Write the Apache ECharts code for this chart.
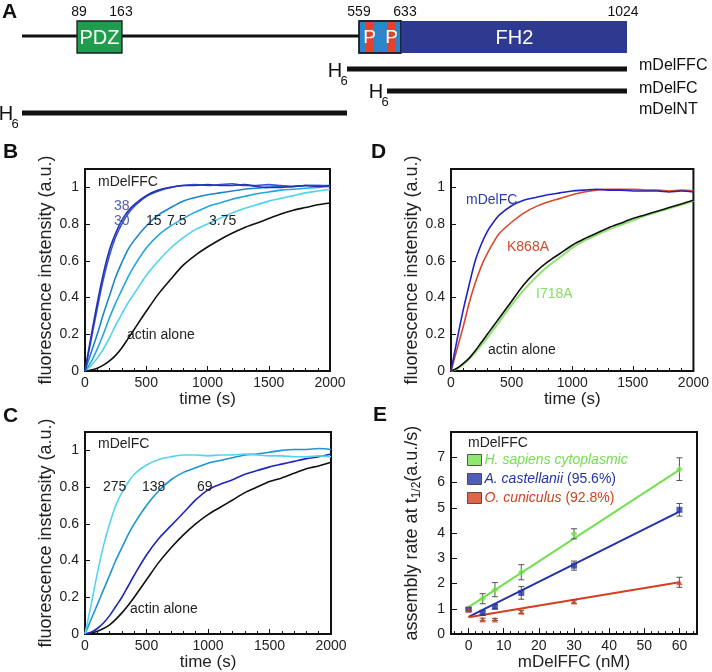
<!DOCTYPE html>
<html><head><meta charset="utf-8">
<script src="https://cdn.jsdelivr.net/npm/echarts@6.0.0/dist/echarts.min.js"></script>
<style>html,body{margin:0;padding:0;background:#fff}#c{width:712px;height:672px}</style>
</head><body><div id="c"></div>
<script>
// ---------- Panel A (schematic units) ----------
const aBackbone = [[22, 36], [359, 36]];
const aDomainNames = ['PDZ', '', 'FH2'];
const aDomainStart = [77, 359, 402];
const aDomainEnd = [122, 401, 627];
const aDomainFill = ['#1f9d4c', '#2a86c8', '#2e3a90'];
const aStripeStart = [366, 388];
const aStripeEnd = [373, 395];
const aConstructNames = ['mDelFFC', 'mDelFC', 'mDelNT'];
const aConstructStart = [347, 387, 22];
const aConstructEnd = [627, 627, 347];
const aConstructRow = [69, 91, 113];
const aResidueLabels = ['89', '163', '559', '633', '1024'];
const aResiduePos = [79, 121, 359, 405, 623];

// ---------- Panels B-D: time courses ----------
const T = [0,50,100,150,200,250,300,350,400,500,600,700,800,900,1000,1100,1200,1300,1400,1500,1600,1700,1800,1900,2000];
const b38   = [0,0.19,0.37,0.53,0.66,0.75,0.82,0.87,0.905,0.955,0.985,1.0,1.01,1.01,1.015,1.01,1.01,1.015,1.005,1.0,1.0,1.005,1.01,1.005,1.01];
const b30   = [0,0.17,0.34,0.5,0.63,0.73,0.8,0.855,0.895,0.95,0.98,1.0,1.01,1.015,1.01,1.015,1.02,1.01,1.01,1.015,1.01,1.005,1.01,1.01,1.005];
const b15   = [0,0.1,0.2,0.31,0.41,0.51,0.59,0.66,0.71,0.79,0.85,0.89,0.925,0.945,0.96,0.97,0.98,0.99,0.995,1.0,1.005,1.005,1.01,1.01,1.01];
const b7_5  = [0,0.05,0.12,0.2,0.29,0.37,0.44,0.51,0.57,0.67,0.74,0.79,0.83,0.865,0.895,0.915,0.935,0.95,0.965,0.975,0.985,0.99,0.995,1.0,1.005];
const b3_75 = [0,0.03,0.07,0.12,0.18,0.25,0.31,0.37,0.42,0.52,0.6,0.67,0.725,0.77,0.8,0.83,0.86,0.885,0.905,0.925,0.94,0.955,0.97,0.98,0.99];
const bActin= [0,0.005,0.015,0.032,0.055,0.085,0.125,0.175,0.225,0.325,0.42,0.5,0.575,0.63,0.675,0.715,0.75,0.78,0.805,0.83,0.855,0.875,0.89,0.905,0.915];

const c275  = [0,0.16,0.33,0.48,0.6,0.7,0.77,0.825,0.87,0.92,0.95,0.965,0.975,0.975,0.97,0.975,0.975,0.98,0.975,0.97,0.97,0.965,0.965,0.97,0.965];
const c138  = [0,0.08,0.16,0.24,0.32,0.4,0.47,0.54,0.6,0.7,0.78,0.84,0.88,0.905,0.93,0.945,0.96,0.975,0.98,0.99,1.0,1.005,1.005,1.01,1.005];
const c69   = [0,0.01,0.03,0.06,0.1,0.15,0.2,0.26,0.32,0.43,0.52,0.59,0.66,0.73,0.785,0.815,0.84,0.87,0.89,0.91,0.925,0.94,0.955,0.965,0.98];
const cActin= [0,0.005,0.015,0.03,0.05,0.08,0.115,0.155,0.2,0.295,0.39,0.47,0.54,0.6,0.65,0.69,0.73,0.77,0.8,0.83,0.85,0.875,0.9,0.915,0.935];

const dFC    = [0,0.17,0.33,0.47,0.6,0.69,0.76,0.81,0.85,0.9,0.93,0.945,0.96,0.97,0.98,0.985,0.99,0.985,0.985,0.98,0.98,0.98,0.975,0.98,0.975];
const dK868A = [0,0.12,0.24,0.37,0.48,0.57,0.64,0.7,0.75,0.81,0.86,0.895,0.92,0.94,0.96,0.975,0.985,0.99,0.99,0.99,0.985,0.985,0.98,0.985,0.98];
const dActin = [0,0.015,0.04,0.07,0.11,0.155,0.2,0.245,0.29,0.38,0.47,0.54,0.595,0.64,0.685,0.72,0.75,0.78,0.805,0.83,0.85,0.87,0.89,0.91,0.93];
const dI718A = [0,0.012,0.035,0.065,0.1,0.14,0.18,0.225,0.27,0.36,0.44,0.51,0.57,0.62,0.67,0.71,0.74,0.77,0.795,0.82,0.845,0.865,0.885,0.905,0.925];

const fluorTicks = [0,0.2,0.4,0.6,0.8,1];

// ---------- Panel E ----------
const eX = [0, 4, 7.5, 15, 30, 60];
const eHuman = [1.0, 1.40, 1.76, 2.45, 3.97, 6.53];
const eHumanErr = [0.05, 0.2, 0.28, 0.3, 0.2, 0.45];
const eAcanth = [0.97, 0.84, 1.08, 1.63, 2.71, 4.92];
const eAcanthErr = [0.05, 0.1, 0.08, 0.25, 0.18, 0.25];
const eRabbit = [0.97, 0.58, 0.58, 0.88, 1.29, 2.05];
const eRabbitErr = [0.05, 0.05, 0.04, 0.06, 0.06, 0.2];
const fitX = [0, 60];
const fitHuman = [1.07, 6.5];
const fitAcanth = [0.68, 4.85];
const fitRabbit = [0.67, 2.05];
const eYTicks = [0,1,2,3,4,5,6,7];
const eXTicks = [0,10,20,30,40,50,60];
const eXMinor = [-4,-2,2,4,6,8,12,14,16,18,22,24,26,28,32,34,36,38,42,44,46,48,52,54,56,58,62,64];

// ---------- build ----------
const FONT = "'Liberation Sans', Arial, Helvetica, sans-serif";
const chart = echarts.init(document.getElementById('c'), null, {renderer: 'canvas'});
const pairs = (xs, ys) => xs.map((x, i) => [x, ys[i]]);
const plain = (v) => String(v);

function curve(name, arr, color, idx, w) {
  return {type: 'line', name, xAxisIndex: idx, yAxisIndex: idx, data: pairs(T, arr),
    showSymbol: false, smooth: 0.3, lineStyle: {color, width: w || 1.6}, itemStyle: {color}, z: 3};
}
function fluorAxes(idx) {
  return {
    x: {type: 'value', gridIndex: idx, min: 0, max: 2000, interval: 500,
      axisLine: {show: false, onZero: false}, splitLine: {show: false},
      axisTick: {inside: true, length: 5, lineStyle: {color: '#111'}},
      minorTick: {show: true, splitNumber: 5, length: 3, lineStyle: {color: '#111'}},
      axisLabel: {fontSize: 14, color: '#222', margin: 5, fontFamily: FONT, formatter: plain},
      name: 'time (s)', nameLocation: 'middle', nameGap: 14,
      nameTextStyle: {fontSize: 17, color: '#222', fontFamily: FONT, verticalAlign: 'top'}},
    y: {type: 'value', gridIndex: idx, min: 0, max: 1.1,
      axisLine: {show: false, onZero: false}, splitLine: {show: false},
      axisTick: {inside: true, length: 5, customValues: fluorTicks, lineStyle: {color: '#111'}},
      axisLabel: {fontSize: 14, color: '#222', margin: 6, customValues: fluorTicks, fontFamily: FONT, formatter: plain},
      name: 'fluorescence instensity (a.u.)', nameLocation: 'middle', nameGap: 30,
      nameTextStyle: {fontSize: 18, color: '#222', fontFamily: FONT}}
  };
}
const axB = fluorAxes(1), axC = fluorAxes(2), axD = fluorAxes(3);

function errSeries(name, ys, errs, color) {
  return {type: 'custom', name: name + ' err', xAxisIndex: 4, yAxisIndex: 4, z: 4,
    data: eX.map((x, i) => [x, ys[i] - errs[i], ys[i] + errs[i]]),
    renderItem: (params, api) => {
      const lo = api.coord([api.value(0), api.value(1)]);
      const hi = api.coord([api.value(0), api.value(2)]);
      const st = {stroke: color, lineWidth: 1};
      return {type: 'group', children: [
        {type: 'line', shape: {x1: lo[0], y1: lo[1], x2: hi[0], y2: hi[1]}, style: st},
        {type: 'line', shape: {x1: lo[0] - 3, y1: lo[1], x2: lo[0] + 3, y2: lo[1]}, style: st},
        {type: 'line', shape: {x1: hi[0] - 3, y1: hi[1], x2: hi[0] + 3, y2: hi[1]}, style: st}
      ]};
    }};
}

const cGreen = '#74e04f', cBlue = '#2434a6', cRed = '#d2401f';

const option = {
  animation: false,
  backgroundColor: '#fff',
  textStyle: {fontFamily: FONT},
  grid: [
    {left: 0, top: 0, width: 712, height: 125, show: false},
    {left: 85, top: 169, width: 245, height: 202, show: true, borderColor: '#111', borderWidth: 2, backgroundColor: 'transparent'},
    {left: 85, top: 432, width: 246, height: 202, show: true, borderColor: '#111', borderWidth: 2, backgroundColor: 'transparent'},
    {left: 451, top: 169, width: 246, height: 202, show: true, borderColor: '#111', borderWidth: 2, backgroundColor: 'transparent'},
    {left: 451, top: 432, width: 246, height: 203, show: true, borderColor: '#111', borderWidth: 2, backgroundColor: 'transparent'}
  ],
  xAxis: [
    {type: 'value', gridIndex: 0, min: 0, max: 712, show: false},
    axB.x, axC.x, axD.x,
    {type: 'value', gridIndex: 4, min: -5, max: 65,
      axisLine: {show: false, onZero: false}, splitLine: {show: false},
      axisTick: {inside: true, length: 6, customValues: eXTicks, lineStyle: {color: '#111'}},
      axisLabel: {fontSize: 14, color: '#222', margin: 5, customValues: eXTicks, fontFamily: FONT, formatter: plain},
      name: 'mDelFFC (nM)', nameLocation: 'middle', nameGap: 14,
      nameTextStyle: {fontSize: 17, color: '#222', fontFamily: FONT, verticalAlign: 'top'}},
    {type: 'value', gridIndex: 4, min: -5, max: 65, position: 'bottom',
      axisLine: {show: false, onZero: false}, splitLine: {show: false}, axisLabel: {show: false},
      axisTick: {inside: true, length: 3, customValues: eXMinor, lineStyle: {color: '#111'}}}
  ],
  yAxis: [
    {type: 'value', gridIndex: 0, min: 0, max: 125, inverse: true, show: false},
    axB.y, axC.y, axD.y,
    {type: 'value', gridIndex: 4, min: 0, max: 8, position: 'left',
      axisLine: {show: false, onZero: false}, splitLine: {show: false},
      axisTick: {inside: true, length: 6, customValues: eYTicks, lineStyle: {color: '#111'}},
      axisLabel: {fontSize: 14, color: '#222', margin: 6, customValues: eYTicks, fontFamily: FONT, formatter: plain},
      name: 'assembly rate at t{s|1/2}(a.u./s)', nameLocation: 'middle', nameGap: 28,
      nameTextStyle: {fontSize: 18, color: '#222', fontFamily: FONT, lineHeight: 22,
        rich: {s: {fontSize: 12, verticalAlign: 'bottom', lineHeight: 12, color: '#222', fontFamily: FONT}}}}
  ],
  legend: {
    left: 467, top: 453, orient: 'vertical', itemWidth: 14, itemHeight: 11, itemGap: 5, padding: 0,
    icon: 'rect', selectedMode: false,
    itemStyle: {borderColor: '#333', borderWidth: 1},
    textStyle: {fontSize: 14, fontFamily: FONT, padding: [0, 0, 0, -2],
      rich: {i: {fontStyle: 'italic', fontSize: 14, fontFamily: FONT}, n: {fontSize: 14, fontFamily: FONT}}},
    formatter: (name) => {
      const m = name.match(/^(.*?)( \(.*\))?$/);
      return '{i|' + m[1] + '}' + (m[2] ? '{n|' + m[2] + '}' : '');
    },
    data: [
      {name: 'H. sapiens cytoplasmic', textStyle: {color: cGreen}},
      {name: 'A. castellanii (95.6%)', textStyle: {color: cBlue}},
      {name: 'O. cuniculus (92.8%)', textStyle: {color: cRed}}
    ]
  },
  series: [
    // Panel A
    {type: 'line', xAxisIndex: 0, yAxisIndex: 0, data: aBackbone, showSymbol: false,
      lineStyle: {color: '#111', width: 3}, z: 1},
    ...aConstructNames.map((n, i) => ({type: 'line', name: n, xAxisIndex: 0, yAxisIndex: 0,
      data: [[aConstructStart[i], aConstructRow[i]], [aConstructEnd[i], aConstructRow[i]]],
      showSymbol: false, lineStyle: {color: '#111', width: 5}, z: 1})),
    {type: 'custom', xAxisIndex: 0, yAxisIndex: 0, z: 2,
      data: aDomainStart.map((s, i) => [s, 21, aDomainEnd[i], 53]),
      renderItem: (params, api) => {
        const i = params.dataIndex;
        const p0 = api.coord([api.value(0), api.value(1)]);
        const p1 = api.coord([api.value(2), api.value(3)]);
        const x = p0[0], y = p0[1], w = p1[0] - p0[0], h = p1[1] - p0[1];
        const children = [{type: 'rect', shape: {x, y, width: w, height: h},
          style: {fill: aDomainFill[i], stroke: i === 2 ? aDomainFill[i] : '#1a1a2a', lineWidth: i === 2 ? 0 : 1.3}}];
        if (i === 1) {
          aStripeStart.forEach((s, k) => {
            const q0 = api.coord([s, 21]), q1 = api.coord([aStripeEnd[k], 53]);
            children.push({type: 'rect', shape: {x: q0[0], y: q0[1] + 0.7, width: q1[0] - q0[0], height: q1[1] - q0[1] - 1.4},
              style: {fill: '#e5412c'}});
            children.push({type: 'text', style: {text: 'P', x: (q0[0] + q1[0]) / 2, y: (q0[1] + q1[1]) / 2 + 1,
              align: 'center', verticalAlign: 'middle', fill: '#fff', fontSize: 19, fontFamily: FONT}});
          });
          children.push({type: 'rect', shape: {x, y, width: w, height: h}, style: {fill: 'none', stroke: '#1a1a2a', lineWidth: 1.3}});
        } else {
          children.push({type: 'text', style: {text: aDomainNames[i], x: x + w / 2, y: y + h / 2 + 1,
            align: 'center', verticalAlign: 'middle', fill: '#fff', fontSize: 20, fontFamily: FONT}});
        }
        return {type: 'group', children};
      }},
    // Panel B
    curve('actin alone', bActin, '#111', 1),
    curve('3.75', b3_75, '#4fd4f0', 1),
    curve('7.5', b7_5, '#22a6dc', 1),
    curve('15', b15, '#1c86c6', 1),
    curve('30', b30, '#3452dc', 1),
    curve('38', b38, '#2630b0', 1),
    // Panel C
    curve('actin alone', cActin, '#111', 2),
    curve('69', c69, '#1e26b8', 2),
    curve('138', c138, '#1f94d2', 2),
    curve('275', c275, '#55d4f2', 2),
    // Panel D
    curve('I718A', dI718A, '#8fe46f', 3, 2),
    curve('actin alone', dActin, '#111', 3),
    curve('K868A', dK868A, '#d9482a', 3),
    curve('mDelFC', dFC, '#1f24c4', 3),
    // Panel E
    {type: 'line', name: 'fitH', xAxisIndex: 4, yAxisIndex: 4, data: pairs(fitX, fitHuman), showSymbol: false, lineStyle: {color: cGreen, width: 2}, z: 2},
    {type: 'line', name: 'fitA', xAxisIndex: 4, yAxisIndex: 4, data: pairs(fitX, fitAcanth), showSymbol: false, lineStyle: {color: cBlue, width: 2}, z: 2},
    {type: 'line', name: 'fitO', xAxisIndex: 4, yAxisIndex: 4, data: pairs(fitX, fitRabbit), showSymbol: false, lineStyle: {color: cRed, width: 2}, z: 2},
    errSeries('H', eHuman, eHumanErr, '#555'),
    errSeries('A', eAcanth, eAcanthErr, '#555'),
    errSeries('O', eRabbit, eRabbitErr, '#555'),
    {type: 'scatter', name: 'H. sapiens cytoplasmic', xAxisIndex: 4, yAxisIndex: 4, data: pairs(eX, eHuman),
      symbol: 'diamond', symbolSize: 7, itemStyle: {color: cGreen}, z: 5},
    {type: 'scatter', name: 'A. castellanii (95.6%)', xAxisIndex: 4, yAxisIndex: 4, data: pairs(eX, eAcanth),
      symbol: 'rect', symbolSize: 6, itemStyle: {color: cBlue}, z: 5},
    {type: 'scatter', name: 'O. cuniculus (92.8%)', xAxisIndex: 4, yAxisIndex: 4, data: pairs(eX, eRabbit),
      symbol: 'triangle', symbolSize: 6, itemStyle: {color: cRed}, z: 5}
  ],
  graphic: [
    ...[['A', 2, 12], ['B', 3, 152], ['C', 3, 416], ['D', 371, 152], ['E', 373, 415]].map(([t, x, y]) => ({
      type: 'text', x, y, z: 10, style: {text: t, fontSize: 21, fontWeight: 'bold', fontFamily: FONT, fill: '#111', verticalAlign: 'middle'}})),
    ...aResidueLabels.map((t, i) => ({type: 'text', x: aResiduePos[i], y: 12, z: 10,
      style: {text: t, fontSize: 14, fontFamily: FONT, fill: '#111', align: 'center', verticalAlign: 'middle'}})),
    ...aConstructNames.map((t, i) => ({type: 'text', x: 639, y: [66, 89, 110][i], z: 10,
      style: {text: t, fontSize: 16, fontFamily: FONT, fill: '#111', verticalAlign: 'middle'}})),
    ...[[335, 71], [376, 92], [6, 114]].flatMap(([x, y]) => [
      {type: 'text', x, y, z: 10, style: {text: 'H', fontSize: 20, fontFamily: FONT, fill: '#111', align: 'center', verticalAlign: 'middle'}},
      {type: 'text', x: x + 9, y: y + 10, z: 10, style: {text: '6', fontSize: 13, fontFamily: FONT, fill: '#111', align: 'center', verticalAlign: 'middle'}}
    ]),
    ...[
      ['mDelFFC', 98, 182, '#222'], ['38', 114, 206, '#5560b0'], ['30', 114, 221, '#5560b0'],
      ['15', 146, 221, '#222'], ['7.5', 167, 221, '#222'], ['3.75', 209, 221, '#222'], ['actin alone', 127, 335, '#222'],
      ['mDelFC', 98, 444, '#222'], ['275', 103, 487, '#222'], ['138', 142, 487, '#222'], ['69', 197, 487, '#222'], ['actin alone', 130, 609, '#222'],
      ['mDelFC', 466, 200, '#2d3bb0'], ['K868A', 507, 247, '#d9482a'], ['I718A', 536, 294, '#86de66'], ['actin alone', 488, 350, '#222'],
      ['mDelFFC', 468, 443, '#222']
    ].map(([t, x, y, c]) => ({type: 'text', x, y, z: 10,
      style: {text: t, fontSize: 14, fontFamily: FONT, fill: c, verticalAlign: 'middle'}}))
  ]
};
chart.setOption(option);
</script></body></html>
